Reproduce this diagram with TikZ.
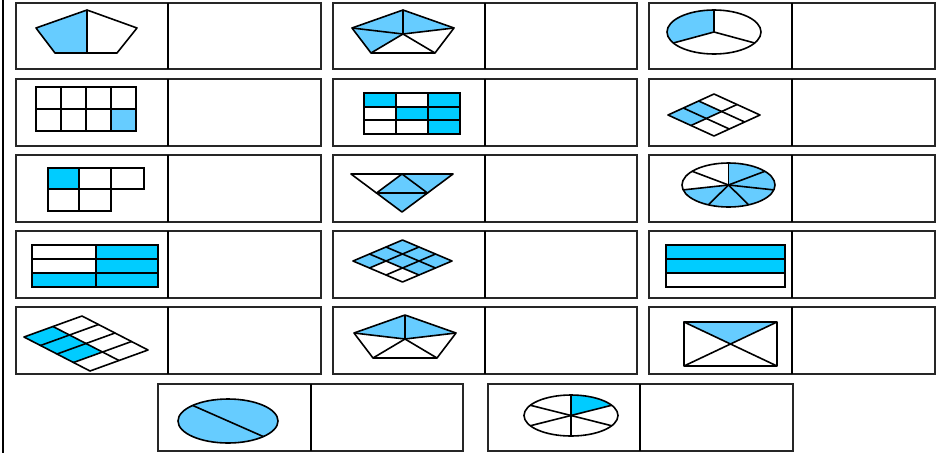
\documentclass[tikz,border=0pt]{standalone}
\usepackage{tikz}
\definecolor{lblue}{HTML}{66CCFF}
\definecolor{cblue}{HTML}{00CCFF}
\tikzset{
 boxline/.style={draw=black!85,line width=1.8pt},
 divline/.style={draw=black,line width=2.6pt},
 figline/.style={draw=black,line width=1.6pt,line join=round},
 gridline/.style={draw=black,line width=1.8pt,line cap=rect},
 lfill/.style={fill=lblue},
 cfill/.style={fill=cblue},
}
\newcommand{\answerpair}[5]{%
  \draw[boxline] (#1,#4) rectangle (#3,#5);
  \draw[divline] (#2,#4) -- (#2,#5);}
\begin{document}
\begin{tikzpicture}[x=1pt,y=-1pt]
\useasboundingbox (0,0) rectangle (947,453);
\fill[white] (0,0) rectangle (947,453);
\draw[line width=2pt] (3,0) -- (3,453);
% boxes
\foreach \ya/\yb in {3/69,79/146,155/222,231/298,307/374}{
  \answerpair{16}{168}{321}{\ya}{\yb}
  \answerpair{333}{485}{637}{\ya}{\yb}
  \answerpair{649}{792}{935}{\ya}{\yb}
}
\answerpair{158}{311}{463}{384}{451}
\answerpair{488}{640}{793}{384}{451}
% fig 1: pentagon halves
\fill[lfill] (87,10) -- (87,53) -- (55,53) -- (36,28) -- cycle;
\draw[figline] (87,10) -- (137,28) -- (117,53) -- (55,53) -- (36,28) -- cycle;
\draw[figline] (87,10) -- (87,53);
% fig 2: pentagon fifths (3/5)
\fill[lfill] (371,53) -- (352,28) -- (403,10) -- (454,28) -- (403,34) -- cycle;
\draw[figline] (403,10) -- (454,28) -- (435,53) -- (371,53) -- (352,28) -- cycle;
\foreach \p in {(403,10),(454,28),(435,53),(371,53),(352,28)} \draw[figline] (403,34) -- \p;
% fig 3: ellipse thirds
\fill[lfill] (714,32) -- plot[domain=90:210,samples=40] ({714+47*cos(\x)},{32-22*sin(\x)}) -- cycle;
\draw[figline] (714,32) ellipse [x radius=47, y radius=22];
\foreach \a in {90,210,330} \draw[figline] (714,32) -- ({714+47*cos(\a)},{32-22*sin(\a)});
% fig 4: 4x2 grid
\fill[lfill] (111,109) rectangle (136,131);
\foreach \xx in {36,61,86,111,136} \draw[gridline] (\xx,87) -- (\xx,131);
\foreach \yy in {87,109,131} \draw[gridline] (36,\yy) -- (136,\yy);
% fig 5: 3x3 grid
\fill[cfill] (364,93) rectangle (396,107);
\fill[cfill] (428,93) rectangle (460,134);
\fill[cfill] (396,107) rectangle (428,120);
\foreach \xx in {364,396,428,460} \draw[gridline] (\xx,93) -- (\xx,134);
\foreach \yy in {93,107,120,134} \draw[gridline] (364,\yy) -- (460,\yy);
% fig 6: rhombus 3x2
\fill[lfill] (668,115) -- (698.67,101) -- (721.67,111.5) -- (691,125.5) -- cycle;
\draw[figline] (668,115) -- (714,94) -- (760,115) -- (714,136) -- cycle;
\draw[figline] (683.33,108) -- (729.33,129);
\draw[figline] (698.67,101) -- (744.67,122);
\draw[figline] (691,125.5) -- (737,104.5);
% fig 7: five squares
\fill[cfill] (48,168) rectangle (79,189);
\draw[gridline] (48,168) rectangle (144,189);
\draw[gridline] (48,189) rectangle (111,211);
\draw[gridline] (79,168) -- (79,211);
\draw[gridline] (111,168) -- (111,211);
% fig 8: triangle quarters
\fill[lfill] (402,174) -- (453,174) -- (402,212) -- (376.5,193) -- cycle;
\draw[figline] (351,174) -- (453,174) -- (402,212) -- cycle;
\draw[figline] (376.5,193) -- (427.5,193) -- (402,174) -- cycle;
% fig 9: ellipse sevenths
\fill[lfill] (728.5,185) -- plot[domain=192.857:450,samples=80] ({728.5+46.5*cos(\x)},{185-22*sin(\x)}) -- cycle;
\draw[figline] (728.5,185) ellipse [x radius=46.5, y radius=22];
\foreach \k in {0,...,6} \draw[figline] (728.5,185) -- ({728.5+46.5*cos(90+\k*51.4286)},{185-22*sin(90+\k*51.4286)});
% fig 10: 2x3 rectangle
\fill[cfill] (96,245) rectangle (158,287);
\fill[cfill] (32,273) rectangle (96,287);
\draw[gridline] (32,245) rectangle (158,287);
\draw[gridline] (32,259) -- (158,259);
\draw[gridline] (32,273) -- (158,273);
\draw[gridline] (96,245) -- (96,287);
% fig 11: rhombus 3x3
\fill[lfill] (353,261) -- (402.5,240) -- (452,261) -- (402.5,282) -- cycle;
\fill[white] (369.5,268) -- (386,261) -- (419,275) -- (402.5,282) -- cycle;
\draw[figline] (353,261) -- (402.5,240) -- (452,261) -- (402.5,282) -- cycle;
\draw[figline] (369.5,254) -- (419,275);
\draw[figline] (386,247) -- (435.5,268);
\draw[figline] (369.5,268) -- (419,247);
\draw[figline] (386,275) -- (435.5,254);
% fig 12: three strips
\fill[cfill] (666,245) rectangle (785,273);
\draw[gridline] (666,245) rectangle (785,287);
\draw[gridline] (666,259) -- (785,259);
\draw[gridline] (666,273) -- (785,273);
% fig 13: parallelogram 2x4
\fill[cfill] (24,337) -- (53,326.5) -- (102.5,352) -- (73.5,362.5) -- cycle;
\draw[figline] (24,337) -- (82,316) -- (148,350) -- (90,371) -- cycle;
\draw[figline] (53,326.5) -- (119,360.5);
\draw[figline] (40.5,345.5) -- (98.5,324.5);
\draw[figline] (57,354) -- (115,333);
\draw[figline] (73.5,362.5) -- (131.5,341.5);
% fig 14: pentagon fifths (2/5)
\fill[lfill] (354,333) -- (405,315) -- (456,333) -- (405,339) -- cycle;
\draw[figline] (405,315) -- (456,333) -- (437,358) -- (373,358) -- (354,333) -- cycle;
\foreach \p in {(405,315),(456,333),(437,358),(373,358),(354,333)} \draw[figline] (405,339) -- \p;
% fig 15: rectangle with diagonals
\fill[lfill] (684,322) -- (777,322) -- (730.5,344) -- cycle;
\draw[figline] (684,322) rectangle (777,366);
\draw[figline] (684,322) -- (777,366);
\draw[figline] (777,322) -- (684,366);
% fig 16: ellipse halves
\fill[lfill] (228,421) ellipse [x radius=50, y radius=22];
\draw[figline] (228,421) ellipse [x radius=50, y radius=22];
\draw[figline] (192.6,405.4) -- (263.4,436.6);
% fig 17: ellipse sixths
\fill[cfill] (571,415.5) -- plot[domain=30:90,samples=30] ({571+47*cos(\x)},{415.5-20.5*sin(\x)}) -- cycle;
\draw[figline] (571,415.5) ellipse [x radius=47, y radius=20.5];
\foreach \a in {30,90,150,210,270,330} \draw[figline] (571,415.5) -- ({571+47*cos(\a)},{415.5-20.5*sin(\a)});
\end{tikzpicture}
\end{document}
